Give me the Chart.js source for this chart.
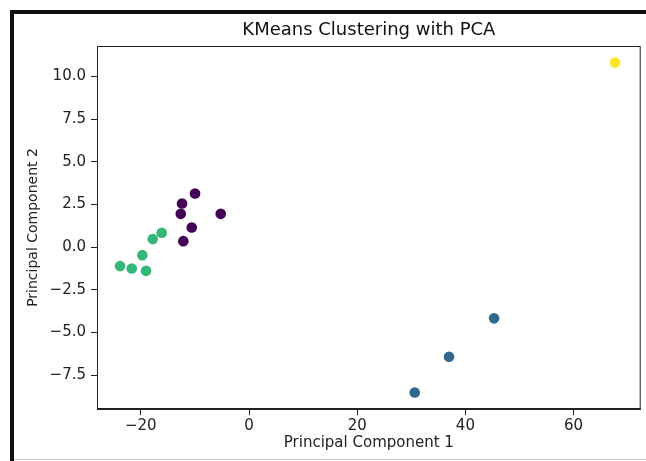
<!DOCTYPE html>
<html>
<head>
<meta charset="utf-8">
<title>KMeans Clustering with PCA</title>
<script src="https://cdn.jsdelivr.net/npm/chart.js@4.4.1/dist/chart.umd.min.js"></script>
<style>
  html, body { margin: 0; padding: 0; background: #fff; }
  #wrap { position: relative; width: 646px; height: 461px; overflow: hidden; }
  #chart { position: absolute; left: 0; top: 0; }
  /* screenshot frame around the figure */
  .frame-top { position: absolute; left: 10px; top: 10px; width: 636px; height: 4px; background: #111; }
  .frame-left { position: absolute; left: 10px; top: 10px; width: 4px; height: 451px; background: #111; }
  .frame-bottom { position: absolute; left: 14px; top: 459px; width: 632px; height: 1px; background: #ccc; }
</style>
</head>
<body>
<div id="wrap">
  <div class="frame-top"></div>
  <div class="frame-left"></div>
  <div class="frame-bottom"></div>
  <canvas id="chart" width="646" height="461"></canvas>
</div>
<script>
// PCA projection, one entry per sample
const pc1 = [-9.98, -12.38, -12.62, -5.23, -10.59, -12.14,
             45.3, 36.97, 30.63,
             -16.14, -17.8, -19.72, -23.84, -21.68, -19.04,
             67.65];
const pc2 = [3.14, 2.56, 1.95, 1.95, 1.15, 0.35,
             -4.17, -6.42, -8.51,
             0.84, 0.47, -0.47, -1.11, -1.25, -1.39,
             10.81];
const clusterOf = [0, 0, 0, 0, 0, 0, 1, 1, 1, 2, 2, 2, 2, 2, 2, 3];

// viridis for 4 clusters
const clusterColors = ["#440154", "#31688e", "#35b779", "#fde725"];

const xTicks = [-20, 0, 20, 40, 60];
const yTicks = [-7.5, -5.0, -2.5, 0.0, 2.5, 5.0, 7.5, 10.0];

const minus = (s) => s.replace("-", "\u2212");

// matplotlib draws a full box around the axes
const boxSpines = {
    id: "boxSpines",
    beforeDatasetsDraw(chart){
        const { ctx, chartArea: a } = chart;
        ctx.save();
        ctx.strokeStyle = "#222";
        ctx.lineWidth = 1;
        ctx.strokeRect(a.left + 0.5, a.top + 0.5, a.right - a.left - 1, a.bottom - a.top - 1);
        ctx.restore();
    },
};

Chart.defaults.font.family = "DejaVu Sans";
Chart.defaults.color = "#222";

const points = pc1.map((x, i) => ({ x, y: pc2[i] }));

new Chart(document.getElementById("chart"), {
    type: "scatter",
    data: {
        datasets: [{
            data: points,
            backgroundColor: clusterOf.map((c) => clusterColors[c]),
            borderWidth: 0,
            pointRadius: 5.3,
            pointHoverRadius: 5.3,
        }],
    },
    options: {
        responsive: false,
        animation: false,
        layout: { padding: { left: 0, right: 5, top: 0, bottom: 0 } },
        plugins: {
            legend: { display: false },
            tooltip: { enabled: false },
            title: {
                display: true,
                text: "KMeans Clustering with PCA",
                fullSize: false,
                color: "#111",
                font: { size: 18, weight: "normal" },
                padding: { top: 20, bottom: 4.4 },
            },
        },
        scales: {
            x: {
                type: "linear",
                min: -28.1,
                max: 72.4,
                afterFit: (scale) => { scale.height = 52; },
                afterBuildTicks: (scale) => { scale.ticks = xTicks.map((v) => ({ value: v })); },
                grid: { drawOnChartArea: false, color: "#222", tickLength: 6 },
                border: { color: "#222", width: 1 },
                ticks: {
                    font: { size: 15 },
                    padding: 2,
                    maxRotation: 0,
                    callback: (v) => minus(String(v)),
                },
                title: {
                    display: true,
                    text: "Principal Component 1",
                    font: { size: 15 },
                    padding: { top: 0, bottom: 9 },
                },
            },
            y: {
                type: "linear",
                min: -9.48,
                max: 11.78,
                afterFit: (scale) => { scale.width = 97; },
                afterBuildTicks: (scale) => { scale.ticks = yTicks.map((v) => ({ value: v })); },
                grid: { drawOnChartArea: false, color: "#222", tickLength: 6 },
                border: { color: "#222", width: 1 },
                ticks: {
                    font: { size: 15 },
                    padding: 5,
                    callback: (v) => minus(v.toFixed(1)),
                },
                title: {
                    display: true,
                    text: "Principal Component 2",
                    font: { size: 14 },
                    padding: { top: 25, bottom: 0 },
                },
            },
        },
    },
    plugins: [boxSpines],
});
</script>
</body>
</html>
